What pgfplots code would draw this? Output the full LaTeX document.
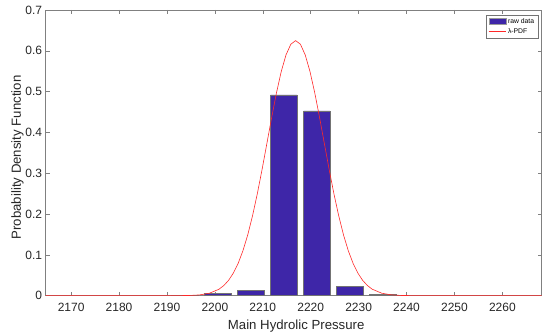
\documentclass[border=0pt]{standalone}
\usepackage{pgfplots}
\pgfplotsset{compat=1.18}
\usepackage{fontspec}
\setmainfont{Liberation Sans}
\definecolor{barblue}{RGB}{62,38,168}
\definecolor{axgray}{RGB}{128,128,128}
\definecolor{txtgray}{RGB}{38,38,38}
\definecolor{curvered}{RGB}{255,40,40}
\begin{document}
\begin{tikzpicture}
\begin{axis}[
  set layers,
  scale only axis,
  width=496pt, height=285.7pt,
  at={(0,0)}, anchor=south west,
  xmin=2164.7, xmax=2268.2,
  ymin=0, ymax=0.7,
  clip=false,
  axis line style={axgray, line width=0.5pt},
  tick style={axgray, line width=0.5pt},
  tick align=inside,
  major tick length=4pt,
  xtick={2170,2180,2190,2200,2210,2220,2230,2240,2250,2260},
  xticklabels={2170,2180,2190,2200,2210,2220,2230,2240,2250,2260},
  ytick={0,0.1,0.2,0.3,0.4,0.5,0.6,0.7},
  yticklabels={0,0.1,0.2,0.3,0.4,0.5,0.6,0.7},
  minor tick num=0,
  tick label style={font=\fontsize{12}{14}\selectfont, text=txtgray},
  /pgf/number format/assume math mode=true,
  xticklabel style={yshift=-3.6pt},
  xlabel={Main Hydrolic Pressure},
  ylabel={Probability Density Function},
  label style={font=\fontsize{13.2}{15}\selectfont, text=txtgray},
  xlabel style={at={(axis description cs:0.505,0)}, anchor=base, yshift=-33.8pt},
  ylabel style={at={(axis description cs:-0.0498,0.484)}, anchor=base},
  legend style={at={(1,1)}, anchor=north east, xshift=-3.4pt, yshift=-4.7pt,
    font=\fontsize{6.8}{7.5}\selectfont, draw=black!55, line width=0.4pt,
    inner xsep=2pt, inner ysep=1.2pt, row sep=0pt,
    legend cell align=left},
]
\addplot[ybar, bar width=5.51, fill=barblue, draw=black!55, line width=0.6pt,
  legend image code/.code={\draw[fill=barblue, draw=black!40, line width=0.3pt] (0pt,-2.7pt) rectangle (17pt,2.7pt);}]
  coordinates {
  (2193.70,0.001) (2200.59,0.006) (2207.48,0.0125) (2214.37,0.492)
  (2221.26,0.453) (2228.15,0.022) (2235.04,0.004)
  };
\addlegendentry{raw data}
\addplot[curvered, line width=0.6pt, on layer=axis foreground,
  legend image code/.code={\draw[curvered, line width=0.6pt] (0pt,0pt) -- (17pt,0pt);}]
  coordinates {
  (2164.7,0) (2180,0) (2188.85,0.0000) (2191.85,0.0001) (2194.85,0.0006) (2196.85,0.0020)
  (2198.85,0.0060) (2200.85,0.0158) (2201.85,0.0247) (2202.85,0.0374)
  (2203.85,0.0552) (2204.85,0.0790) (2205.85,0.1099) (2206.85,0.1486)
  (2207.85,0.1953) (2208.85,0.2493) (2209.85,0.3092) (2210.85,0.3727)
  (2211.85,0.4365) (2212.85,0.4967) (2213.85,0.5492) (2214.85,0.5901)
  (2215.85,0.6161) (2216.85,0.6250) (2217.85,0.6161) (2218.85,0.5901)
  (2219.85,0.5492) (2220.85,0.4967) (2221.85,0.4365) (2222.85,0.3727)
  (2223.85,0.3092) (2224.85,0.2493) (2225.85,0.1953) (2226.85,0.1486)
  (2227.85,0.1099) (2228.85,0.0790) (2229.85,0.0552) (2230.85,0.0374)
  (2231.85,0.0247) (2232.85,0.0158) (2234.85,0.0060) (2236.85,0.0020)
  (2238.85,0.0006) (2241.85,0.0001) (2244.85,0.0000) (2268.2,0)
  };
\addlegendentry{λ-PDF}
\end{axis}
\path (-45.7pt,-40.3pt) rectangle (504.3pt,295.7pt);
\end{tikzpicture}
\end{document}
